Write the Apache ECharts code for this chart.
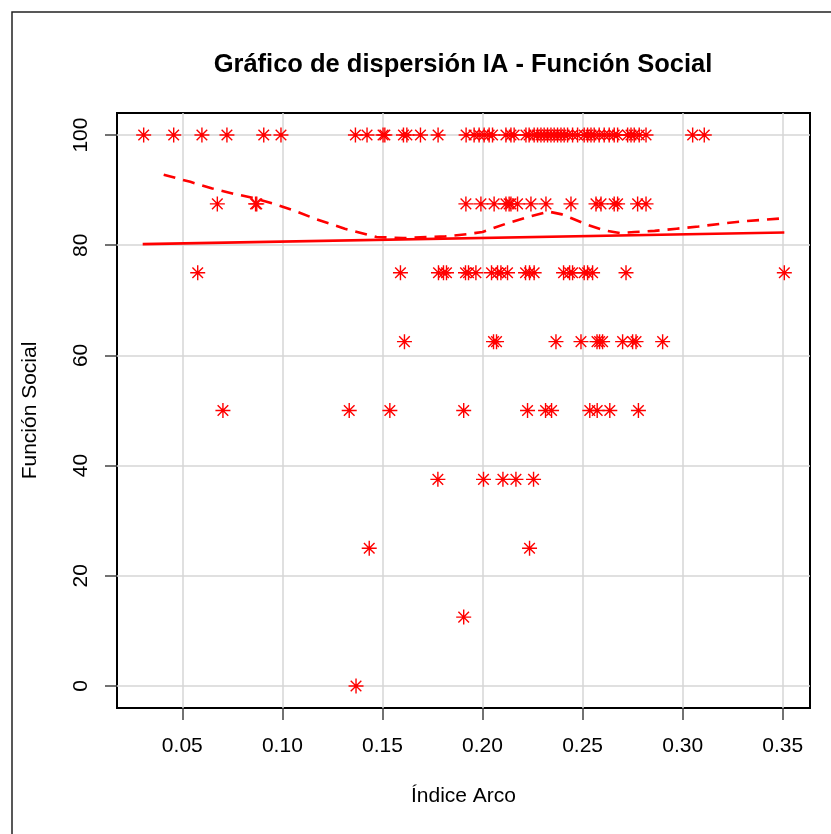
<!DOCTYPE html>
<html>
<head>
<meta charset="utf-8">
<script src="https://cdn.jsdelivr.net/npm/echarts@6/dist/echarts.min.js"></script>
<style>
  html, body { margin: 0; padding: 0; background: #fff; }
  #chart { width: 831px; height: 834px; }
</style>
</head>
<body>
<div id="chart"></div>
<script>
// Índice Arco values, grouped by Función Social level
var levels = [100, 87.5, 75, 62.5, 50, 37.5, 25, 12.5, 0];
var arco100 = [0.0307, 0.0457, 0.0598, 0.0723, 0.0907, 0.0993, 0.1365, 0.1423, 0.1503, 0.1512,
    0.1605, 0.1622, 0.169, 0.1778, 0.1918, 0.1958, 0.1983, 0.2008, 0.2033, 0.205,
    0.2117, 0.2142, 0.2158, 0.2217, 0.2233, 0.2258, 0.2275, 0.2292, 0.2308, 0.2325,
    0.2342, 0.2358, 0.2375, 0.2392, 0.2408, 0.2425, 0.245, 0.2475, 0.2508, 0.2525,
    0.2542, 0.2558, 0.2583, 0.2608, 0.2633, 0.2658, 0.2675, 0.2725, 0.2742, 0.2758,
    0.2783, 0.2817, 0.305, 0.3108];
var arco875 = [0.0675, 0.0866, 0.0872, 0.1917, 0.1992, 0.2058, 0.2117, 0.2133, 0.2142, 0.2175,
    0.2242, 0.2317, 0.2442, 0.2567, 0.2592, 0.2658, 0.2675, 0.2775, 0.2817];
var arco75 = [0.0577, 0.159, 0.178, 0.1805, 0.182, 0.1915, 0.193, 0.1967, 0.2045, 0.2075,
    0.2092, 0.2125, 0.2215, 0.2235, 0.2258, 0.2405, 0.2435, 0.245, 0.2508, 0.2525,
    0.255, 0.2717, 0.3508];
var arco625 = [0.161, 0.2055, 0.207, 0.2367, 0.2492, 0.2572, 0.2585, 0.26, 0.27, 0.275, 0.2767, 0.29];
var arco50 = [0.0703, 0.1334, 0.1537, 0.1906, 0.2225, 0.2315, 0.2345, 0.2536, 0.2573, 0.2636, 0.2779];
var arco375 = [0.1777, 0.2005, 0.2102, 0.2167, 0.2255];
var arco25 = [0.1434, 0.2235];
var arco125 = [0.1906];
var arco0 = [0.1368];

// smoothed (lowess) curve
var lowessX = [0.0407, 0.054, 0.065, 0.075, 0.085, 0.096, 0.1065, 0.117, 0.1312, 0.1471,
    0.1603, 0.1815, 0.192, 0.2, 0.2117, 0.2227, 0.233, 0.2397, 0.2445, 0.2525,
    0.2608, 0.2688, 0.276, 0.286, 0.297, 0.308, 0.319, 0.329, 0.34, 0.3508];
var lowessY = [92.8, 91.5, 90.3, 89.4, 88.6, 87.5, 86.2, 84.7, 83.0, 81.5,
    81.3, 81.6, 82.0, 82.4, 83.9, 85.1, 86.1, 85.6, 84.9, 83.7,
    82.7, 82.2, 82.4, 82.6, 83.0, 83.4, 83.9, 84.3, 84.6, 84.9];

// linear fit, end points
var fitX = [0.0302, 0.3508];
var fitY = [80.2, 82.3];

var xTicks = [0.05, 0.10, 0.15, 0.20, 0.25, 0.30, 0.35];
var yTicks = [0, 20, 40, 60, 80, 100];

var arcoByLevel = [arco100, arco875, arco75, arco625, arco50, arco375, arco25, arco125, arco0];
var points = [];
levels.forEach(function (lv, i) {
    arcoByLevel[i].forEach(function (x) { points.push([x, lv]); });
});
var lowess = lowessX.map(function (x, i) { return [x, lowessY[i]]; });
var fit = fitX.map(function (x, i) { return [x, fitY[i]]; });

var fontFam = '"Liberation Sans", Arial, sans-serif';
var star = 'path://M0,-10L0,10M-10,0L10,0M-7.07,-7.07L7.07,7.07M-7.07,7.07L7.07,-7.07';

var chart = echarts.init(document.getElementById('chart'));
var option = {
    backgroundColor: '#fff',
    animation: false,
    textStyle: { fontFamily: fontFam },
    grid: {
        left: 117, top: 113, right: 21, bottom: 126,
        show: true, borderColor: '#000', borderWidth: 2, backgroundColor: 'transparent'
    },
    graphic: [
        {
            type: 'rect', silent: true,
            shape: { x: 12, y: 12, width: 860, height: 860 },
            style: { fill: 'none', stroke: '#222', lineWidth: 1.5 }
        },
        {
            type: 'text', x: 463, y: 65,
            style: {
                text: 'Gráfico de dispersión IA - Función Social',
                textAlign: 'center', textVerticalAlign: 'middle',
                font: 'bold 25.5px ' + fontFam, fill: '#000'
            }
        }
    ],
    xAxis: {
        type: 'value',
        min: 0.01737, max: 0.36363,
        name: 'Índice Arco',
        nameLocation: 'middle', nameGap: 78,
        nameTextStyle: { fontSize: 21, color: '#000' },
        axisLine: { show: false, onZero: false },
        axisTick: {
            show: true, length: 12, customValues: xTicks,
            lineStyle: { color: '#444', width: 1.5 }
        },
        axisLabel: {
            customValues: xTicks, margin: 28, fontSize: 21, color: '#000',
            formatter: function (v) { return v.toFixed(2); }
        },
        splitLine: { show: true, lineStyle: { color: '#d6d6d6', width: 1.5 } }
    },
    yAxis: {
        type: 'value',
        min: -4, max: 104,
        name: 'Función Social',
        nameLocation: 'middle', nameGap: 76, nameRotate: 90,
        nameTextStyle: { fontSize: 21, color: '#000' },
        axisLine: { show: false, onZero: false },
        axisTick: {
            show: true, length: 12, customValues: yTicks,
            lineStyle: { color: '#444', width: 1.5 }
        },
        axisLabel: {
            customValues: yTicks, margin: 25, fontSize: 21, color: '#000', rotate: 90
        },
        splitLine: { show: true, lineStyle: { color: '#d6d6d6', width: 1.5 } }
    },
    series: [
        {
            name: 'puntos',
            type: 'scatter',
            data: points,
            symbol: star,
            symbolSize: 15,
            itemStyle: { color: 'transparent', borderColor: '#ff0000', borderWidth: 1.4, opacity: 1 },
            z: 3
        },
        {
            name: 'lowess',
            type: 'line',
            data: lowess,
            showSymbol: false,
            smooth: false,
            lineStyle: { color: '#ff0000', width: 2.6, type: [12, 8] },
            z: 4
        },
        {
            name: 'ajuste',
            type: 'line',
            data: fit,
            showSymbol: false,
            lineStyle: { color: '#ff0000', width: 2.6 },
            z: 4
        }
    ]
};
chart.setOption(option);
</script>
</body>
</html>
